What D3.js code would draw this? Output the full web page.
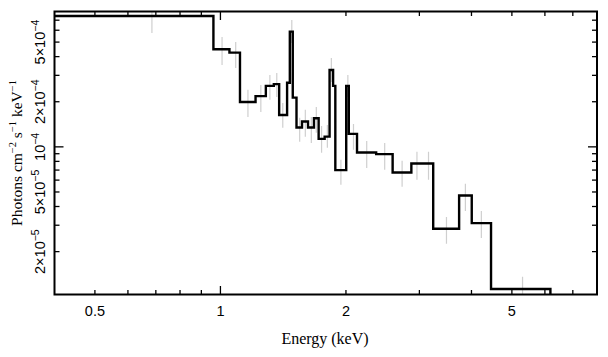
<!DOCTYPE html>
<html><head><meta charset="utf-8">
<script src="https://cdn.jsdelivr.net/npm/d3@7/dist/d3.min.js"></script>
<style>
html,body{margin:0;padding:0;background:#fff;}
svg{display:block;}
</style></head>
<body>
<svg id="chart" width="608" height="357"></svg>
<script>
// Model step: bin edges (keV) and values (photons cm^-2 s^-1 keV^-1)
const binEdges = [0.4, 0.962, 1.051, 1.114, 1.214, 1.285, 1.343, 1.383, 1.445, 1.467, 1.491, 1.522, 1.569, 1.622, 1.676, 1.720, 1.778, 1.827, 1.863, 1.886, 2.003, 2.032, 2.126, 2.363, 2.588, 2.870, 3.238, 3.736, 4.006, 4.456, 6.185];
const modelValues = [7.47e-4, 4.48e-4, 4.25e-4, 1.99e-4, 2.18e-4, 2.55e-4, 2.62e-4, 1.63e-4, 2.68e-4, 5.87e-4, 2.13e-4, 1.345e-4, 1.475e-4, 1.345e-4, 1.553e-4, 1.13e-4, 1.171e-4, 3.26e-4, 2.55e-4, 6.99e-5, 2.55e-4, 1.221e-4, 9.16e-5, 8.94e-5, 6.74e-5, 7.74e-5, 2.84e-5, 4.74e-5, 3.10e-5, 1.125e-5];
// Data error bars: energy, lower, upper
const errEnergy = [0.685, 1.009, 1.088, 1.164, 1.250, 1.314, 1.365, 1.411, 1.483, 1.549, 1.598, 1.652, 1.698, 1.748, 1.805, 1.845, 1.945, 2.021, 2.085, 2.243, 2.477, 2.727, 2.960, 3.155, 3.484, 3.868, 4.224, 5.303];
const errLow = [5.75e-4, 3.52e-4, 3.36e-4, 1.585e-4, 1.71e-4, 2.06e-4, 2.15e-4, 1.339e-4, 4.94e-4, 1.08e-4, 1.166e-4, 1.063e-4, 1.24e-4, 9.12e-5, 9.85e-5, 2.71e-4, 5.58e-5, 2.15e-4, 9.55e-5, 7.24e-5, 7.03e-5, 5.41e-5, 6.03e-5, 6.03e-5, 2.26e-5, 3.74e-5, 2.47e-5, 9.5e-6];
const errHigh = [8.19e-4, 5.41e-4, 5.01e-4, 2.40e-4, 2.59e-4, 3.02e-4, 3.11e-4, 1.965e-4, 7.03e-4, 1.561e-4, 1.765e-4, 1.585e-4, 1.848e-4, 1.38e-4, 1.401e-4, 3.92e-4, 8.19e-5, 3.02e-4, 1.42e-4, 1.096e-4, 1.063e-4, 8.07e-5, 9.26e-5, 9.26e-5, 3.41e-5, 5.67e-5, 3.74e-5, 1.36e-5];
// Axis tick labels
const xTickValues = [0.5, 1, 2, 5];
const xTickLabels = ["0.5", "1", "2", "5"];
const yTickValues = [5e-4, 2e-4, 1e-4, 5e-5, 2e-5];
const yTickMant = ["5×10", "2×10", "10", "5×10", "2×10"];
const yTickExp = ["−4", "−4", "−4", "−5", "−5"];

const xDomain = [0.4, 8];
const yDomain = [1.035e-5, 8e-4];
const L = 54.5, R = 597, T = 11.5, B = 294.5;

const svg = d3.select("#chart");
const x = d3.scaleLog().domain(xDomain).range([L, R]);
const y = d3.scaleLog().domain(yDomain).range([B, T]);

svg.append("defs").append("clipPath").attr("id", "clip")
  .append("rect").attr("x", L).attr("y", T).attr("width", R - L).attr("height", B - T);

// error bars
const g = svg.append("g").attr("clip-path", "url(#clip)");
g.selectAll("line.err").data(errEnergy).enter().append("line")
  .attr("class", "err")
  .attr("x1", d => x(d)).attr("x2", d => x(d))
  .attr("y1", (d, i) => y(errLow[i])).attr("y2", (d, i) => y(errHigh[i]))
  .attr("stroke", "#cfcfcf").attr("stroke-width", 1.2);

// model step
const pts = [];
modelValues.forEach((v, i) => { pts.push([binEdges[i], v]); pts.push([binEdges[i + 1], v]); });
pts.push([binEdges[binEdges.length - 1], yDomain[0] * 0.9]);
g.append("path").datum(pts)
  .attr("d", d3.line().x(d => x(d[0])).y(d => y(d[1])))
  .attr("fill", "none").attr("stroke", "#000").attr("stroke-width", 2.4)
  .attr("stroke-linejoin", "miter");

// ticks
const xMinor = [0.5, 0.6, 0.7, 0.8, 0.9, 2, 3, 4, 5, 6, 7];
const xMajor = [1];
const yMinor = [2e-5, 3e-5, 4e-5, 5e-5, 6e-5, 7e-5, 8e-5, 9e-5, 2e-4, 3e-4, 4e-4, 5e-4, 6e-4, 7e-4];
const yMajor = [1e-4];
const tk = svg.append("g").attr("stroke", "#000").attr("stroke-width", 1.3);
function xt(vals, len) {
  vals.forEach(v => {
    tk.append("line").attr("x1", x(v)).attr("x2", x(v)).attr("y1", B).attr("y2", B - len);
    tk.append("line").attr("x1", x(v)).attr("x2", x(v)).attr("y1", T).attr("y2", T + len);
  });
}
function yt(vals, len) {
  vals.forEach(v => {
    tk.append("line").attr("y1", y(v)).attr("y2", y(v)).attr("x1", L).attr("x2", L + len);
    tk.append("line").attr("y1", y(v)).attr("y2", y(v)).attr("x1", R).attr("x2", R - len);
  });
}
xt(xMinor, 4.5); xt(xMajor, 8.5); yt(yMinor, 5); yt(yMajor, 9);

// frame
svg.append("rect").attr("x", L).attr("y", T).attr("width", R - L).attr("height", B - T)
  .attr("fill", "none").attr("stroke", "#000").attr("stroke-width", 2);

// x tick labels
svg.append("g").selectAll("text").data(xTickValues).enter().append("text")
  .attr("x", d => x(d)).attr("y", 316)
  .attr("text-anchor", "middle")
  .attr("font-family", "Liberation Sans, Arial, sans-serif").attr("font-size", 14.5)
  .text((d, i) => xTickLabels[i]);

// y tick labels (rotated)
const yl = svg.append("g");
yTickValues.forEach((v, i) => {
  const t = yl.append("text")
    .attr("transform", `translate(45,${y(v)}) rotate(-90)`)
    .attr("text-anchor", "middle")
    .attr("font-family", "Liberation Sans, Arial, sans-serif").attr("font-size", 14.5);
  t.append("tspan").text(yTickMant[i]);
  t.append("tspan").attr("dy", -6).attr("font-size", 10.5).text(yTickExp[i]);
});

// axis titles
svg.append("text").attr("x", 325).attr("y", 344).attr("text-anchor", "middle")
  .attr("font-family", "Liberation Serif, Times New Roman, serif").attr("font-size", 16)
  .text("Energy (keV)");

const yt2 = svg.append("text").attr("transform", "translate(22,153) rotate(-90)")
  .attr("text-anchor", "middle")
  .attr("font-family", "Liberation Serif, Times New Roman, serif").attr("font-size", 15.5);
yt2.append("tspan").text("Photons cm");
yt2.append("tspan").attr("dy", -6).attr("font-size", 10.5).text("−2");
yt2.append("tspan").attr("dy", 6).text(" s");
yt2.append("tspan").attr("dy", -6).attr("font-size", 10.5).text("−1");
yt2.append("tspan").attr("dy", 6).text(" keV");
yt2.append("tspan").attr("dy", -6).attr("font-size", 10.5).text("−1");
</script>
</body></html>
